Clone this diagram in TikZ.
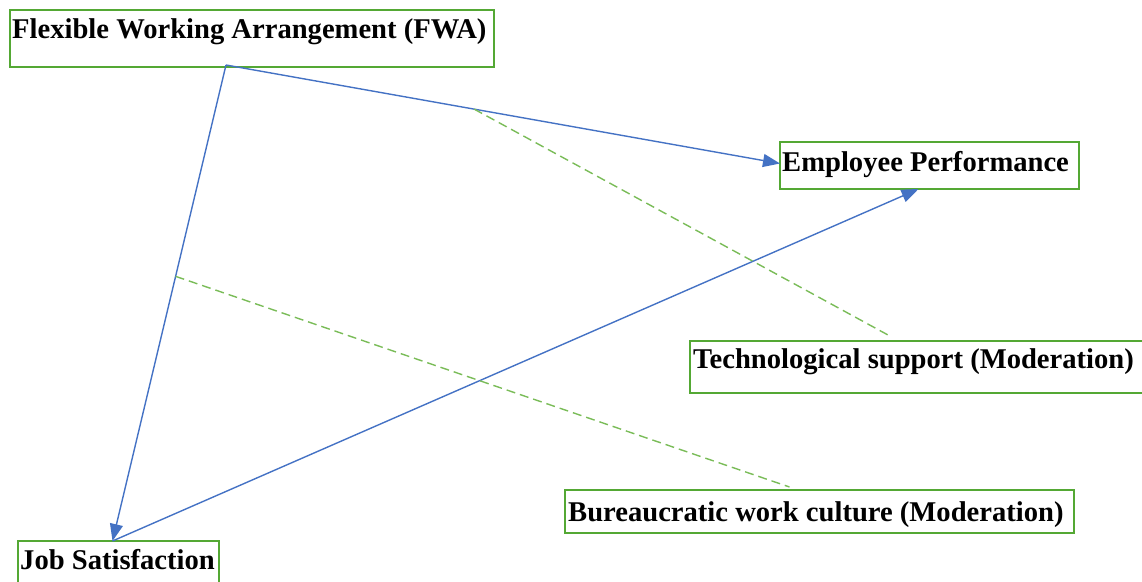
\documentclass[tikz,border=0pt]{standalone}
\usepackage{fontspec}
\setmainfont{Liberation Serif}
\usetikzlibrary{arrows.meta,calc}
\definecolor{boxgreen}{RGB}{84,168,52}
\definecolor{dashgreen}{RGB}{122,188,88}
\definecolor{arrowblue}{RGB}{68,114,196}
\tikzset{
  box/.style={draw=boxgreen, line width=2.6pt, inner sep=0pt, outer sep=0pt, anchor=north west, fill=none},
  txt/.style={anchor=base west, inner sep=0pt, font=\fontsize{28.6}{34}\selectfont\bfseries},
  link/.style={draw=arrowblue, line width=1.4pt, -{Triangle[length=17pt,width=13pt]}},
  moder/.style={draw=dashgreen, line width=1.4pt, dash pattern=on 9pt off 5pt},
}
\begin{document}
\begin{tikzpicture}[x=1pt,y=-1pt]
\useasboundingbox (0,0) rectangle (1142,581);
\clip (0,0) rectangle (1142,581);
% boxes
\node[box, minimum width=484pt, minimum height=57pt] (fwa) at (10,10) {};
\node[box, minimum width=299pt, minimum height=47pt] (ep) at (780,142) {};
\node[box, minimum width=462pt, minimum height=52pt] (tech) at (690,341) {};
\node[box, minimum width=509pt, minimum height=43pt] (bur) at (565,490) {};
\node[box, minimum width=201pt, minimum height=50pt] (job) at (18,541) {};
% texts
\node[txt] (fwat) at (12,38) {Flexible Working Arrangement (FWA)};
\node[txt] (ept) at (782,171) {Employee Performance};
\node[txt] (techt) at (693,368) {Technological support (Moderation)};
\node[txt] (burt) at (568,521) {Bureaucratic work culture (Moderation)};
\node[txt] (jobt) at (20,569) {Job Satisfaction};
% connectors
\coordinate (src) at ([xshift=-26pt,yshift=2pt]fwa.south);
\draw[link] (src) -- coordinate[pos=0.448] (m1) ([yshift=2pt]ep.west);
\draw[link] (src) -- coordinate[pos=0.444] (m2) ([xshift=-6pt]job.north);
\draw[link] ([xshift=-6pt]job.north) -- ([xshift=-11pt]ep.south);
\draw[moder] (m1) -- ([xshift=-33pt,yshift=6pt]tech.north);
\draw[moder] (m2) -- ([xshift=-30pt,yshift=3pt]bur.north);
\end{tikzpicture}
\end{document}
